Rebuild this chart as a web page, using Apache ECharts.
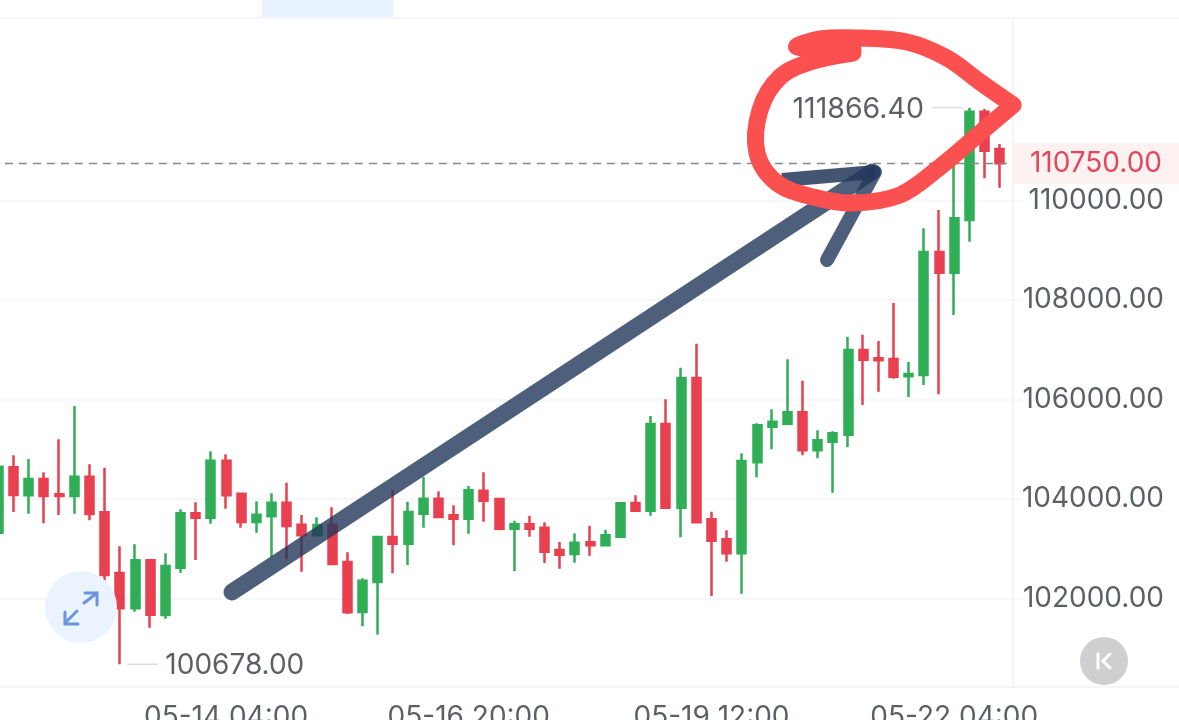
<!DOCTYPE html>
<html><head><meta charset="utf-8">
<style>html,body{margin:0;padding:0;background:#fff;overflow:hidden}#c{width:1179px;height:720px}</style>
<script src="https://cdn.jsdelivr.net/npm/echarts@6/dist/echarts.min.js"></script>
</head><body><div id="c"></div>
<script>
const categories = ['05-11 16:00','05-11 20:00','05-12 00:00','05-12 04:00','05-12 08:00','05-12 12:00','05-12 16:00','05-12 20:00',
'05-13 00:00','05-13 04:00','05-13 08:00','05-13 12:00','05-13 16:00','05-13 20:00','05-14 00:00','05-14 04:00','05-14 08:00','05-14 12:00','05-14 16:00','05-14 20:00',
'05-15 00:00','05-15 04:00','05-15 08:00','05-15 12:00','05-15 16:00','05-15 20:00','05-16 00:00','05-16 04:00','05-16 08:00','05-16 12:00','05-16 16:00','05-16 20:00',
'05-17 00:00','05-17 04:00','05-17 08:00','05-17 12:00','05-17 16:00','05-17 20:00','05-18 00:00','05-18 04:00','05-18 08:00','05-18 12:00','05-18 16:00','05-18 20:00',
'05-19 00:00','05-19 04:00','05-19 08:00','05-19 12:00','05-19 16:00','05-19 20:00','05-20 00:00','05-20 04:00','05-20 08:00','05-20 12:00','05-20 16:00','05-20 20:00',
'05-21 00:00','05-21 04:00','05-21 08:00','05-21 12:00','05-21 16:00','05-21 20:00','05-22 00:00','05-22 04:00','05-22 08:00','05-22 12:00','05-22 16:00',''];
const xTickLabels = ['05-14 04:00','05-16 20:00','05-19 12:00','05-22 04:00'];
const yTickValues = [102000,104000,106000,108000,110000];
const opens = [103323,104637,104074,104402,104094,104060,104449,103732,102513,101803,102767,101668,102620,103712,103625,104771,104107,103538,103652,103926,103484,103270,103484,102734,101729,102332,103236,103102,103705,104007,103672,103605,104168,104000,103404,103491,103424,102975,102895,103129,103069,103243,103920,103766,105508,103826,106432,103591,103189,102908,104737,105454,105514,105742,104978,105153,105293,106995,106827,106814,106466,106492,108965,108549,109608,111786,111035];
const closes = [104650,104081,104402,104060,104060,104449,103699,102472,101803,102767,101675,102653,103712,103625,104771,104074,103538,103685,103926,103457,103270,103478,102694,101722,102359,103236,103102,103739,104007,103638,103605,104174,103967,103404,103491,103404,102941,102881,103122,103069,103270,103913,103766,105508,103826,106432,103531,103163,102908,104764,105481,105555,105742,104978,105179,105320,106995,106801,106787,106459,106513,108965,108549,109641,111786,111002,110750];
const lows = [103200,103739,103705,103511,103678,103705,103571,102359,100678,101735,101414,101595,102519,102774,103504,103806,103424,103323,102828,102787,102540,103270,102674,101689,101441,101273,102506,102674,103424,103638,103069,103303,103544,103370,102553,103243,102714,102600,102720,102861,103069,103243,103766,103665,103806,103230,103511,102050,102740,102097,104436,104998,105494,104878,104817,104127,105039,105889,106157,106419,106050,106292,106104,107699,109172,110445,110258];
const highs = [104800,104878,104804,104536,105199,105869,104697,104630,103049,103089,102767,102908,103792,103933,104958,104898,104107,103953,104114,104328,103678,103632,103833,102928,102406,103243,104181,103947,104449,104154,103873,104261,104536,104007,103565,103665,103531,103136,103310,103464,103384,103940,104074,105668,106003,106640,107122,103745,103370,104918,105521,105802,106807,106379,105380,105360,107263,107303,107176,107940,106754,109440,109809,110900,111866.4,111840,111136];
const lastPrice = 110750, highPrice = 111866.4, lowPrice = 100678;
const highAt = '05-22 08:00', lowAt = '05-13 00:00';
const yMin = 100221, yMax = 113668;

const candles = categories.map((c,i)=> i<opens.length ? [opens[i],closes[i],lows[i],highs[i]] : '-');
const UP='#30AE57', DOWN='#E8404F', TXT='#5B5F66', GRID='#F2F4F8';
const chart = echarts.init(document.getElementById('c'), null, {renderer:'canvas'});
const fmt = v => v.toFixed(2);
const fontFamily = 'Inter';
function extreme(name, coord, val, off, pos, size, dist){
  return [{coord:[coord,val], symbol:'rect', symbolSize:[31,1.5], symbolOffset:[off,0],
    itemStyle:{color:'#DADCDF'},
    label:{show:true, position:pos, distance:dist, offset:[0,1.5], formatter:name, color:TXT, fontSize:size, fontFamily}}];
}
chart.setOption({
  animation:false,
  backgroundColor:'#fff',
  grid:{left:-9.1, top:18, width:1031.6, height:669, containLabel:false, outerBoundsMode:'none'},
  xAxis:{type:'category', data:categories, boundaryGap:true,
    axisLine:{show:false}, axisTick:{show:false}, splitLine:{show:false},
    axisLabel:{interval:(i,v)=>xTickLabels.includes(v), color:TXT, fontSize:28, fontFamily, margin:17}},
  yAxis:{type:'value', position:'right', min:yMin, max:yMax, offset:-9.5, scale:true,
    axisLine:{show:true, lineStyle:{color:'#EEF0F4', width:1.5}},
    axisTick:{show:false, customValues:yTickValues},
    splitLine:{show:true, lineStyle:{color:GRID, width:1.5}},
    axisLabel:{customValues:yTickValues, formatter:v=>fmt(v), color:TXT, fontSize:28, fontFamily, align:'right', margin:151, padding:[6,0,0,0]}},
  series:[{type:'candlestick', data:candles, barWidth:8.5,
    itemStyle:{color:UP, color0:DOWN, borderColor:UP, borderColor0:DOWN, borderWidth:2.5},
    clip:true,
    markLine:{silent:true, symbol:'none', animation:false,
      lineStyle:{color:'#85898F', type:[8,6], width:1.4},
      label:{show:true, position:'end', distance:156.5, formatter:()=>fmt(lastPrice), color:'#E2475A', fontSize:28, fontFamily,
        backgroundColor:'#FDF1F1', width:149, height:41, lineHeight:41, align:'right', padding:[0,17,0,0]},
      data:[{yAxis:lastPrice}]},
    markPoint:{silent:true, animation:false, data:[
      ...extreme(fmt(highPrice), highAt, highPrice, -22, 'left', 28.5, 8),
      ...extreme(fmt(lowPrice), lowAt, lowPrice, 23, 'right', 28, 7)]}
  }],
  graphic:[
    {type:'rect', z:1, silent:true, shape:{x:262,y:0,width:131,height:17}, style:{fill:'#E8F2FE'}},
    {type:'line', z:1, shape:{x1:0,y1:18,x2:1179,y2:18}, style:{stroke:GRID,lineWidth:1.5}},
    {type:'line', z:1, shape:{x1:0,y1:687,x2:1179,y2:687}, style:{stroke:'#EEF0F4',lineWidth:1.5}},
    // expand button
    {type:'circle', z:5, shape:{cx:81,cy:607,r:36}, style:{fill:'#EAF3FE'}},
    {type:'polyline', z:6, shape:{points:[[84,603],[97,593]]}, style:{stroke:'#6A94DC',lineWidth:3,fill:null,lineCap:'round'}},
    {type:'polyline', z:6, shape:{points:[[85,593],[97,593],[97,605]]}, style:{stroke:'#6A94DC',lineWidth:3,fill:null,lineCap:'round'}},
    {type:'polyline', z:6, shape:{points:[[77,611],[65,623]]}, style:{stroke:'#6A94DC',lineWidth:3,fill:null,lineCap:'round'}},
    {type:'polyline', z:6, shape:{points:[[65,612],[65,624],[78,624]]}, style:{stroke:'#6A94DC',lineWidth:3,fill:null,lineCap:'round'}},
    // back button
    {type:'circle', z:5, shape:{cx:1104,cy:661,r:24}, style:{fill:'#CFCFD2'}},
    {type:'line', z:6, shape:{x1:1098,y1:654,x2:1098,y2:668}, style:{stroke:'#fff',lineWidth:3,lineCap:'round'}},
    {type:'polyline', z:6, shape:{points:[[1110,654],[1103,661],[1110,668]]}, style:{stroke:'#fff',lineWidth:3,fill:null,lineCap:'round'}},
    // hand-drawn arrow
    {type:'polyline', z:20, shape:{points:[[232,592],[872,172]]}, style:{stroke:'#22375A',opacity:.8,lineWidth:17,fill:null,lineCap:'round'}},
    {type:'polyline', z:20, shape:{points:[[782,180],[875,172]]}, style:{stroke:'#22375A',opacity:.85,lineWidth:14,fill:null,lineCap:'butt'}},
    {type:'polyline', z:20, shape:{points:[[827,260],[875,172]]}, style:{stroke:'#22375A',opacity:.8,lineWidth:14,fill:null,lineCap:'round'}},
    // hand-drawn red loop
    {type:'polyline', z:30, shape:{smooth:.35, points:[[853,53],[810,62],[780,77],[760,110],[757,153],[777,183],[813,197],[853,203],[900,195],[940,167],[980,133],[1013,105]]},
      style:{stroke:'#FB5050',lineWidth:17,fill:null,lineCap:'round',lineJoin:'round'}},
    {type:'polyline', z:30, shape:{smooth:.35, points:[[1013,105],[980,82],[947,58],[907,42],[860,38],[820,39],[797,47],[853,50]]},
      style:{stroke:'#FB5050',lineWidth:17,fill:null,lineCap:'round',lineJoin:'round'}}
  ]
});
</script></body></html>
